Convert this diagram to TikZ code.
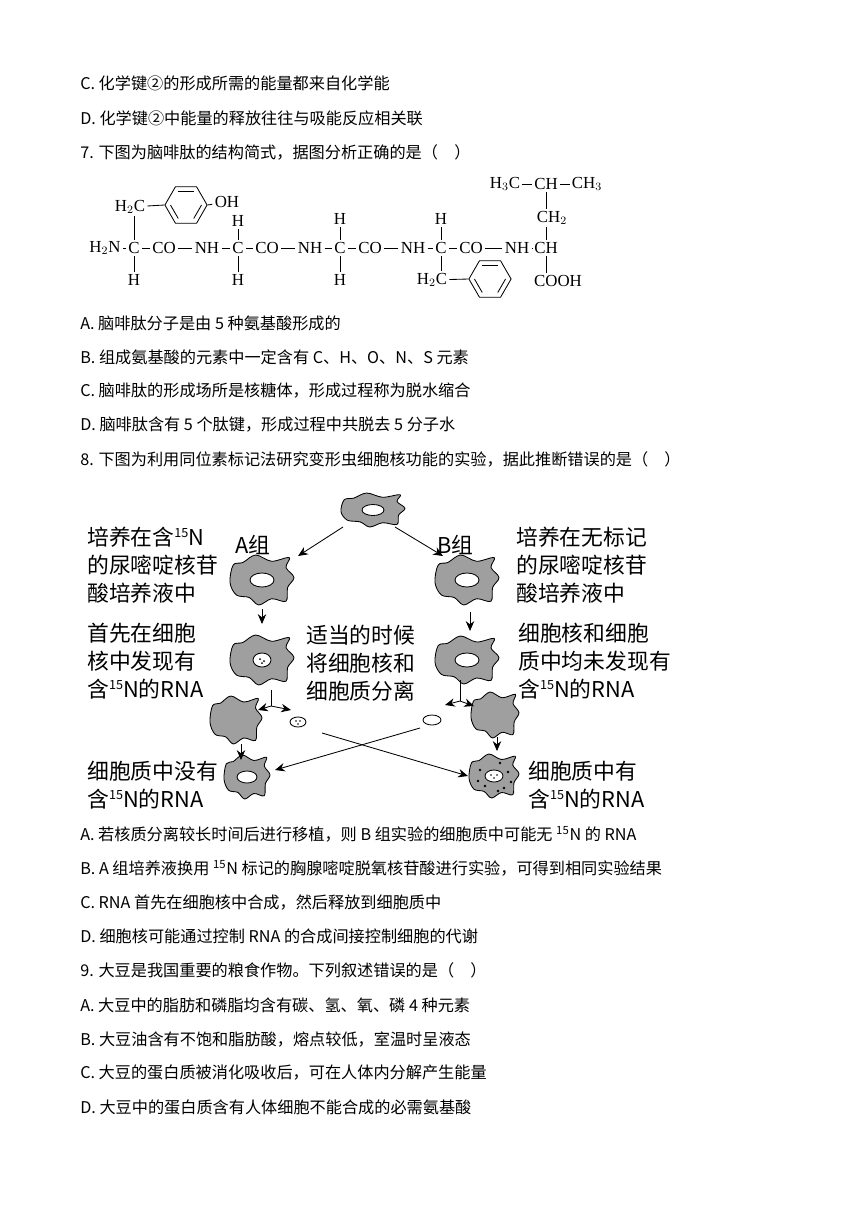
\documentclass[tikz,border=0pt]{standalone}
\usepackage{fontspec}
\setmainfont{Liberation Serif}
\newfontfamily\cjk{Noto Sans CJK SC}
\usetikzlibrary{arrows.meta, shapes.geometric, calc}

\tikzset{
  body/.style = {anchor=west, inner sep=0pt, font=\cjk\fontsize{11.5}{13}\selectfont},
  big/.style = {anchor=west, inner sep=0pt, font=\cjk\fontsize{15.5}{18}\selectfont},
  atom/.style = {inner sep=1.5pt, font=\fontsize{12}{14}\selectfont},
  bond/.style = {line width=0.6pt},
  ring/.style = {regular polygon, regular polygon sides=6, draw, line width=0.6pt, minimum size=30pt, inner sep=0pt},
  flow/.style = {-{Stealth[length=7pt,width=6pt]}, line width=0.6pt}
}

% irregular cell outline
\newcommand\cellblob[3]{%
  \fill[gray!75, draw=black, line width=0.6pt, shift={(#1)}, xscale=#2, yscale=#3]
    plot[smooth cycle, tension=0.55] coordinates {(-1,0.1) (-0.8,0.6) (-0.4,0.7) (-0.1,1)
      (0.3,0.75) (0.75,0.85) (0.8,0.3) (1,-0.1) (0.75,-0.5) (0.85,-0.9) (0.3,-0.75)
      (-0.2,-1) (-0.6,-0.7) (-0.9,-0.6)};}
\newcommand\nucl[3]{\draw[fill=white, line width=0.6pt] (#1) ellipse [x radius=#2, y radius=#3];}
\newcommand\iso{\raisebox{0.7ex}{\fontsize{9}{9}\selectfont 15}}

\begin{document}
\begin{tikzpicture}[x=0.25mm, y=-0.25mm]
\useasboundingbox (0,0) rectangle (868,1227);

% question 6, end
\node (c6) [body] at (80,83)  {C. 化学键②的形成所需的能量都来自化学能};
\node (d6) [body] at (80,118) {D. 化学键②中能量的释放往往与吸能反应相关联};
\node (q7) [body] at (80,152) {7. 下图为脑啡肽的结构简式，据图分析正确的是（\quad ）};

% peptide chain
\node (n1)  [atom] at (105,248) {H$_2$N};
\node (c1)  [atom] at (134,248) {C};
\node (co1) [atom] at (164,248) {CO};
\node (nh1) [atom] at (207,248) {NH};
\node (c2)  [atom] at (238,248) {C};
\node (co2) [atom] at (267,248) {CO};
\node (nh2) [atom] at (310,248) {NH};
\node (c3)  [atom] at (340,248) {C};
\node (co3) [atom] at (370,248) {CO};
\node (nh3) [atom] at (413,248) {NH};
\node (c4)  [atom] at (441,248) {C};
\node (co4) [atom] at (471,248) {CO};
\node (nh4) [atom] at (517,248) {NH};
\node (c5)  [atom] at (546,248) {CH};
\node (h1b) [atom] at (134,280) {H};
\node (h2a) [atom] at (238,221) {H};
\node (h2b) [atom] at (238,280) {H};
\node (h3a) [atom] at (340,219) {H};
\node (h3b) [atom] at (340,280) {H};
\node (h4a) [atom] at (441,219) {H};
% tyrosine side chain
\node (ch1) [atom] at (130,207) {H$_2$C};
\node (r1)  [ring] at (186,205) {};
\node (oh)  [atom] at (227,202) {OH};
% phenylalanine side chain
\node (ch4) [atom] at (432,280) {H$_2$C};
\node (r4)  [ring] at (490,279) {};
% leucine side chain
\node (ch5) [atom] at (552,218) {CH$_2$};
\node (cht) [atom] at (546,184) {CH};
\node (me1) [atom] at (505,184) {H$_3$C};
\node (me2) [atom] at (587,184) {CH$_3$};
\node (cooh)[atom] at (558,281) {COOH};

\draw [bond] (n1) -- (c1) -- (co1) -- (nh1) -- (c2) -- (co2) -- (nh2) -- (c3) -- (co3)
  -- (nh3) -- (c4) -- (co4) -- (nh4) -- (c5);
\draw [bond] (c1) -- (h1b);  \draw [bond] (c1) -- (ch1.south -| c1);
\draw [bond] (h2a) -- (c2) -- (h2b);
\draw [bond] (h3a) -- (c3) -- (h3b);
\draw [bond] (h4a) -- (c4) -- (ch4.north -| c4);
\draw [bond] (ch1) -- (r1.corner 3);
\draw [bond] (r1.corner 6) -- (oh);
\draw [bond] (ch4) -- (r4.corner 3);
\draw [bond] (me1) -- (cht) -- (me2);
\draw [bond] (cht) -- (ch5.north -| cht);
\draw [bond] (ch5.south -| c5) -- (c5);
\draw [bond] (c5) -- (cooh.north -| c5);
\foreach \r in {r1, r4} {
  \foreach \a/\b in {1/2, 3/4, 5/6}
    \draw [bond] ($(\r.center)!0.72!(\r.corner \a)$) -- ($(\r.center)!0.72!(\r.corner \b)$);
}

\node (a7) [body] at (80,323) {A. 脑啡肽分子是由 5 种氨基酸形成的};
\node (b7) [body] at (80,357) {B. 组成氨基酸的元素中一定含有 C、H、O、N、S 元素};
\node (cc7)[body] at (80,391) {C. 脑啡肽的形成场所是核糖体，形成过程称为脱水缩合};
\node (d7) [body] at (80,425) {D. 脑啡肽含有 5 个肽键，形成过程中共脱去 5 分子水};
\node (q8) [body] at (80,459) {8. 下图为利用同位素标记法研究变形虫细胞核功能的实验，据此推断错误的是（\quad ）};

% cells
\coordinate (top) at (373,510);
\coordinate (ca1) at (262,580);  \coordinate (cb1) at (467,580);
\coordinate (ca2) at (262,660);  \coordinate (cb2) at (467,660);
\coordinate (ca3) at (236,720);  \coordinate (na3) at (298,722);
\coordinate (nb3) at (432,720);  \coordinate (cb3) at (495,715);
\coordinate (ca4) at (247,777);  \coordinate (cb4) at (494,776);
\cellblob{top}{32}{17} \nucl{top}{11}{5.5}
\cellblob{ca1}{32}{25} \nucl{ca1}{12}{7}
\cellblob{cb1}{32}{25} \nucl{cb1}{12}{7}
\cellblob{ca2}{32}{25} \nucl{ca2}{9}{7}
\fill ($(ca2)+(-2,-1)$) circle (1) ($(ca2)+(2,1)$) circle (1) ($(ca2)+(0,3)$) circle (1);
\cellblob{cb2}{32}{24} \nucl{cb2}{12}{7}
\cellblob{ca3}{26}{24}
\cellblob{cb3}{24}{23}
\nucl{na3}{8}{5}
\fill ($(na3)+(-2,-1)$) circle (0.8) ($(na3)+(2,-1)$) circle (0.8) ($(na3)+(0,2)$) circle (0.8);
\nucl{nb3}{9}{5}
\cellblob{ca4}{23}{22} \nucl{ca4}{10}{6}
\cellblob{cb4}{25}{22} \nucl{cb4}{9}{6}
\foreach \dx/\dy in {-14/-6, -9/10, 10/12, 14/-4, 4/15, -16/5, 6/-13, 17/6}
  \fill ($(cb4)+(\dx,\dy)$) circle (1.3);
\fill ($(cb4)+(-3,-1)$) circle (0.8) ($(cb4)+(3,-1)$) circle (0.8) ($(cb4)+(0,2)$) circle (0.8);

% arrows
\coordinate (t1) at (343,527);  \coordinate (t2) at (298,556);
\coordinate (t3) at (395,527);  \coordinate (t4) at (443,556);
\draw [flow] (t1) -- (t2);
\draw [flow] (t3) -- (t4);
\coordinate (a1s) at (262,609);  \coordinate (a1e) at (262,624);
\coordinate (b1s) at (470,612);  \coordinate (b1e) at (470,631);
\draw [flow] (a1s) -- (a1e);
\draw [flow] (b1s) -- (b1e);
\coordinate (as) at (271,690);  \coordinate (am) at (271,706);
\coordinate (al) at (258,710);  \coordinate (ar) at (291,710);
\draw [line width=0.6pt] (as) -- (am);
\draw [flow] (am) -- (al);
\draw [flow] (am) -- (ar);
\coordinate (bs) at (460,680);  \coordinate (bm) at (460,701);
\coordinate (bl) at (445,705);  \coordinate (br) at (474,706);
\draw [line width=0.6pt] (bs) -- (bm);
\draw [flow] (bm) -- (bl);
\draw [flow] (bm) -- (br);
\coordinate (x1) at (322,733);  \coordinate (x2) at (468,776);
\coordinate (x3) at (420,728);  \coordinate (x4) at (275,770);
\draw [flow] (x1) -- (x2);
\draw [flow] (x3) -- (x4);
\coordinate (a3s) at (241,744);  \coordinate (a3e) at (241,760);
\coordinate (b3s) at (497,737);  \coordinate (b3e) at (497,751);
\draw [flow] (a3s) -- (a3e);
\draw [flow] (b3s) -- (b3e);

% labels of the experiment
\node (la1) [big] at (87,537) {培养在含\iso N};
\node (la2) [big] at (87,565) {的尿嘧啶核苷};
\node (la3) [big] at (87,593) {酸培养液中};
\node (ga)  [big] at (235,545) {A组};
\node (gb)  [big] at (437,545) {B组};
\node (lb1) [big] at (516,537) {培养在无标记};
\node (lb2) [big] at (516,565) {的尿嘧啶核苷};
\node (lb3) [big] at (516,593) {酸培养液中};
\node (lc1) [big] at (87,633) {首先在细胞};
\node (lc2) [big] at (87,661) {核中发现有};
\node (lc3) [big] at (87,689) {含\iso N的RNA};
\node (lm1) [big] at (306,635) {适当的时候};
\node (lm2) [big] at (306,663) {将细胞核和};
\node (lm3) [big] at (306,691) {细胞质分离};
\node (ld1) [big] at (518,633) {细胞核和细胞};
\node (ld2) [big] at (518,661) {质中均未发现有};
\node (ld3) [big] at (518,689) {含\iso N的RNA};
\node (le1) [big] at (87,771) {细胞质中没有};
\node (le2) [big] at (87,799) {含\iso N的RNA};
\node (lf1) [big] at (528,771) {细胞质中有};
\node (lf2) [big] at (528,799) {含\iso N的RNA};

\node (a8) [body] at (80,834) {A. 若核质分离较长时间后进行移植，则 B 组实验的细胞质中可能无 \textsuperscript{15}N 的 RNA};
\node (b8) [body] at (80,868) {B. A 组培养液换用 \textsuperscript{15}N 标记的胸腺嘧啶脱氧核苷酸进行实验，可得到相同实验结果};
\node (cc8)[body] at (80,902) {C. RNA 首先在细胞核中合成，然后释放到细胞质中};
\node (d8) [body] at (80,936) {D. 细胞核可能通过控制 RNA 的合成间接控制细胞的代谢};
\node (q9) [body] at (80,970) {9. 大豆是我国重要的粮食作物。下列叙述错误的是（\quad ）};
\node (a9) [body] at (80,1005) {A. 大豆中的脂肪和磷脂均含有碳、氢、氧、磷 4 种元素};
\node (b9) [body] at (80,1039) {B. 大豆油含有不饱和脂肪酸，熔点较低，室温时呈液态};
\node (cc9)[body] at (80,1073) {C. 大豆的蛋白质被消化吸收后，可在人体内分解产生能量};
\node (d9) [body] at (80,1107) {D. 大豆中的蛋白质含有人体细胞不能合成的必需氨基酸};
\end{tikzpicture}
\end{document}
